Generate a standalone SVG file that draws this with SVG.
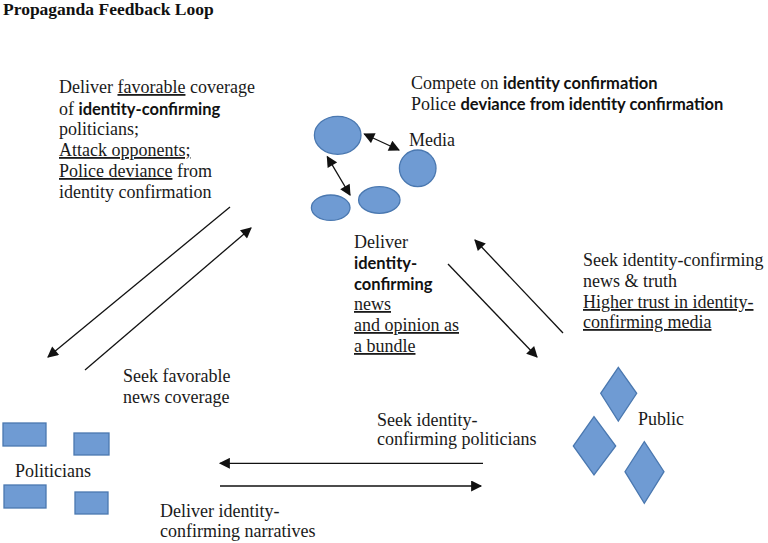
<svg xmlns="http://www.w3.org/2000/svg" width="768" height="543" viewBox="0 0 768 543">
<style>
text{font-family:"Liberation Serif","Times New Roman",serif;font-size:18px;fill:#1a1a1a}
.b{font-family:Lato,"Open Sans",sans-serif;font-weight:bold;font-size:16.5px;fill:#111}
.u{text-decoration:underline}
.title{font-weight:bold;font-size:17.5px;fill:#111}
.ell{fill:#6f9bd3;stroke:#4a78b0;stroke-width:1.3}
.conn line{stroke:#111;stroke-width:1.3;fill:none}
</style>
<defs>
<marker id="ah" viewBox="0 0 10 10" refX="9" refY="5" markerWidth="13" markerHeight="11" markerUnits="userSpaceOnUse" orient="auto-start-reverse">
<path d="M0,0 L10,5 L0,10 z" fill="#111"/>
</marker>
</defs>
<rect width="768" height="543" fill="#fff"/>
<text class="title" x="3" y="15">Propaganda Feedback Loop</text>

<g id="media">
<ellipse class="ell" cx="337.7" cy="135.3" rx="23.3" ry="19"/>
<ellipse class="ell" cx="417.7" cy="168.3" rx="18.3" ry="18.3"/>
<ellipse class="ell" cx="379.3" cy="200" rx="20.7" ry="13.3"/>
<ellipse class="ell" cx="330.7" cy="207.7" rx="19.3" ry="12.7"/>
<text x="409" y="146">Media</text>
</g>

<g id="politicians">
<rect class="ell" x="3" y="423" width="43" height="23"/>
<rect class="ell" x="74" y="433" width="35" height="22"/>
<rect class="ell" x="4" y="485" width="42" height="23"/>
<rect class="ell" x="75" y="492" width="33" height="22"/>
<text x="15" y="477">Politicians</text>
</g>

<g id="public">
<polygon class="ell" points="618.3,367.3 636.7,393.3 618.3,421 600.7,393.3"/>
<polygon class="ell" points="594,416.7 615.7,446 594,475 573.3,446"/>
<polygon class="ell" points="644.3,441.7 664,471.7 644.3,503.3 625,471.7"/>
<text x="638" y="425">Public</text>
</g>

<g class="conn" id="connectors">
<line x1="364.3" y1="134" x2="399" y2="150" marker-start="url(#ah)" marker-end="url(#ah)"/>
<line x1="327.3" y1="156.7" x2="350" y2="195" marker-start="url(#ah)" marker-end="url(#ah)"/>
<line x1="230" y1="207" x2="48" y2="357" marker-end="url(#ah)"/>
<line x1="85" y1="370" x2="251" y2="228" marker-end="url(#ah)"/>
<line x1="448" y1="264" x2="537" y2="357" marker-end="url(#ah)"/>
<line x1="563" y1="333" x2="475" y2="240" marker-end="url(#ah)"/>
<line x1="483" y1="463.3" x2="220" y2="463.3" marker-end="url(#ah)"/>
<line x1="220" y1="486" x2="481" y2="486" marker-end="url(#ah)"/>
</g>

<g id="labels">
<text x="59" y="93">Deliver <tspan class="u">favorable</tspan> coverage</text>
<text x="59" y="115">of <tspan class="b">identity-confirming</tspan></text>
<text x="59" y="135">politicians;</text>
<text x="59" y="156" class="u">Attack opponents;</text>
<text x="59" y="177"><tspan class="u">Police deviance</tspan> from</text>
<text x="59" y="198">identity confirmation</text>

<text x="411" y="89">Compete on <tspan class="b">identity confirmation</tspan></text>
<text x="411" y="110">Police <tspan class="b">deviance from identity confirmation</tspan></text>

<text x="354" y="248">Deliver</text>
<text x="354" y="269" class="b">identity-</text>
<text x="354" y="290" class="b">confirming</text>
<text x="354" y="310" class="u">news</text>
<text x="354" y="331" class="u">and opinion as</text>
<text x="354" y="352" class="u">a bundle</text>

<text x="583" y="266">Seek identity-confirming</text>
<text x="583" y="287">news &amp; truth</text>
<text x="583" y="308" class="u">Higher trust in identity-</text>
<text x="583" y="328" class="u">confirming media</text>

<text x="123" y="382">Seek favorable</text>
<text x="123" y="403">news coverage</text>

<text x="377" y="426">Seek identity-</text>
<text x="377" y="445">confirming politicians</text>

<text x="160" y="517">Deliver identity-</text>
<text x="160" y="537">confirming narratives</text>
</g>
</svg>
